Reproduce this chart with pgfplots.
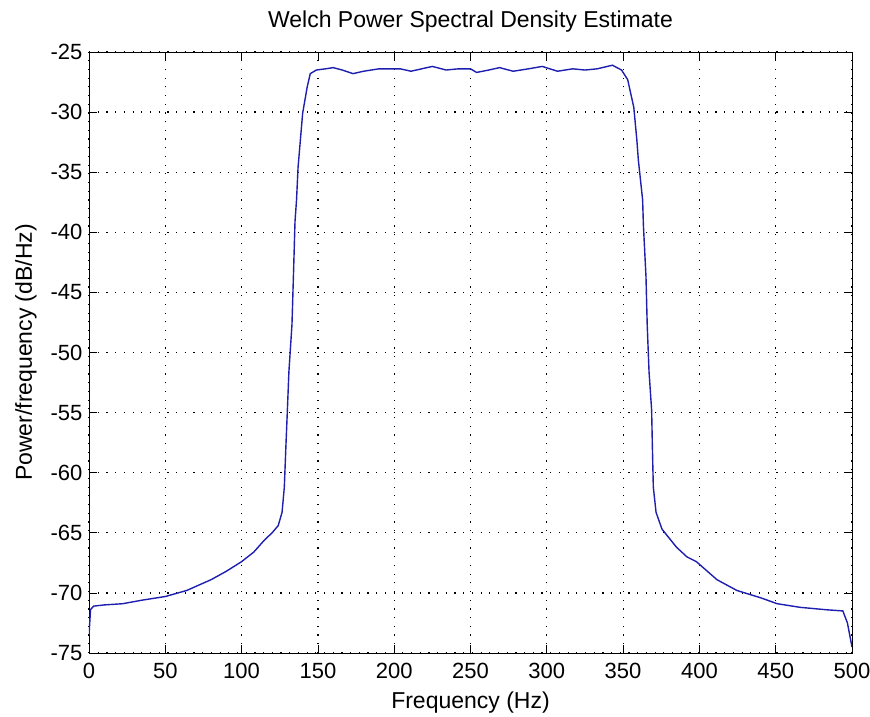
\documentclass[border=0pt]{standalone}
\usepackage{fontspec}
\setmainfont{Liberation Sans}
\usepackage{pgfplots}
\pgfplotsset{compat=1.18}
\definecolor{psdblue}{RGB}{30,30,175}

\begin{document}
\begin{tikzpicture}
    \useasboundingbox (0pt,0pt) rectangle (870pt,716pt);
    \begin{axis}[
            at={(89pt,63pt)},
            anchor=south west,
            scale only axis,
            width=763pt,
            height=601pt,
            xmin=0, xmax=500,
            ymin=-75, ymax=-25,
            xtick={0,50,...,500},
            ytick={-75,-70,...,-25},
            xticklabels={0,50,100,150,200,250,300,350,400,450,500},
            yticklabels={-75,-70,-65,-60,-55,-50,-45,-40,-35,-30,-25},
            tick align=inside,
            major tick length=8pt,
            tick style={black, line width=0.8pt},
            axis line style={black, line width=0.8pt},
            grid=major,
            grid style={black, line width=1.2pt, dash pattern=on 1.2pt off 7.5pt},
            ticklabel style={font=\fontsize{22}{26}\selectfont},
            xticklabel style={yshift=-7pt},
            yticklabel style={xshift=-3pt},
            label style={font=\fontsize{23}{27}\selectfont},
            title style={font=\fontsize{23}{27}\selectfont,
                at={(axis description cs:0.5,1.0316)}, anchor=base},
            title={Welch Power Spectral Density Estimate},
            xlabel={Frequency (Hz)},
            ylabel={Power/frequency (dB/Hz)},
            xlabel style={at={(axis description cs:0.5,-0.0915)}, anchor=base},
            ylabel style={at={(axis description cs:-0.0747,0.5)}, anchor=base, rotate=0},
        ]
        % PSD trace
        \addplot[psdblue, line width=1.4pt] coordinates {
                (0,-73.5) (1,-71.4) (3,-71.1) (10,-71.0) (22,-70.9)
                (35,-70.6) (50,-70.3) (64,-69.8) (80,-68.9) (90,-68.2)
                (100,-67.4) (108,-66.6) (115,-65.6) (120,-65.0) (124,-64.4)
                (126.5,-63.3) (128,-61.2) (129,-57.9) (130,-54.8) (131,-51.6)
                (133,-47.7) (134,-43.5) (135,-39.1) (136,-37.3) (137,-34.6)
                (140,-30.1) (143,-27.9) (145,-26.8) (149,-26.5) (155,-26.4)
                (160,-26.3) (166,-26.5) (173,-26.8) (180,-26.6) (190,-26.4)
                (204,-26.4) (211,-26.6) (218,-26.4) (225,-26.2) (234,-26.5)
                (242,-26.4) (250,-26.4) (254,-26.7) (262,-26.5) (269,-26.3)
                (278,-26.6) (288,-26.4) (297,-26.2) (307,-26.6) (317,-26.4)
                (325,-26.5) (333,-26.4) (343,-26.1) (349,-26.5) (353,-27.3)
                (357,-29.6) (359,-32.3) (360,-34.0) (362.8,-37.3) (363.3,-39.4)
                (365,-43.7) (365.8,-47.7) (367,-51.6) (368.7,-54.8) (369.2,-57.9)
                (369.8,-61.2) (371.6,-63.3) (375.5,-64.7) (385,-66.2) (391.8,-67.0)
                (398,-67.4) (411.5,-68.9) (424.6,-69.8) (440,-70.4) (451,-70.9)
                (466,-71.2) (483,-71.4) (494,-71.5) (497,-72.5) (500,-74.5)
            };
    \end{axis}
\end{tikzpicture}
\end{document}
